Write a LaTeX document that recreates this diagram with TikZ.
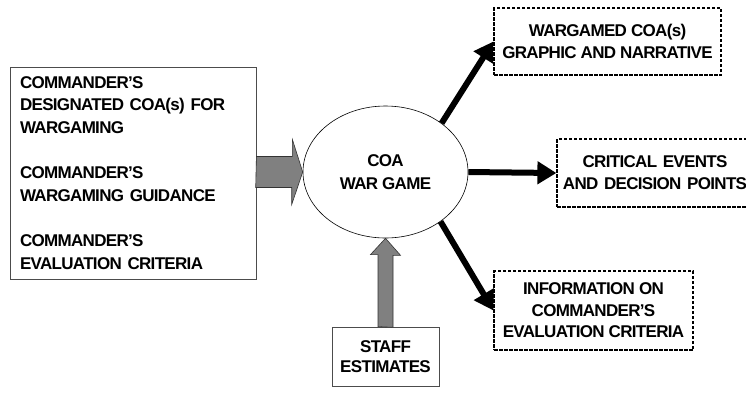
\documentclass[tikz,border=0pt]{standalone}
\usepackage{fontspec}
\setmainfont{Liberation Sans}[LetterSpace=-4]
\usetikzlibrary{arrows.meta,shapes.geometric}

\begin{document}
\begin{tikzpicture}[x=1pt,y=-1pt,
  font=\bfseries\fontsize{17}{22.7}\selectfont,
  inbox/.style={draw=black!70,line width=0.8pt,rectangle,inner sep=0pt},
  outbox/.style={draw,line width=1.2pt,dash pattern=on 3.5pt off 1.5pt,
    inner sep=0pt,align=center,font=\bfseries\fontsize{17}{22}\selectfont},
  outarrow/.style={line width=6pt,-{Triangle[length=19pt,width=22pt]}},
  blockarrow/.style={draw=black!80,line width=0.6pt,fill=black!50}]

\useasboundingbox (0,0) rectangle (746,392);

\node[inbox,minimum width=246pt,minimum height=212pt,text width=226pt,align=left]
  (guidance) at (133,173) {COMMANDER’S\\ DESIGNATED COA(s) FOR\\ WARGAMING\\[22.7pt]
  COMMANDER’S\\ WARGAMING GUIDANCE\\[22.7pt] COMMANDER’S\\ EVALUATION CRITERIA};
\node[ellipse,draw,line width=0.6pt,minimum width=165pt,minimum height=132pt,
  inner sep=0pt,align=center] (wargame) at (385.5,172) {COA\\ WAR GAME};
\node[inbox,minimum width=107pt,minimum height=59pt,align=center,
  font=\bfseries\fontsize{17}{19.5}\selectfont] (staff) at (385.5,356.5) {STAFF\\ ESTIMATES};

\node[outbox,minimum width=227pt,minimum height=67pt] (graphic) at (607.5,41.5)
  {WARGAMED COA(s)\\ GRAPHIC AND NARRATIVE};
\node[outbox,text width=196pt,minimum height=68pt] (events) at (655,173)
  {CRITICAL EVENTS\\ AND DECISION POINTS};
\node[outbox,minimum width=199pt,minimum height=79pt,
  font=\bfseries\fontsize{17}{21.5}\selectfont] (info) at (593.5,310.5)
  {INFORMATION ON\\ COMMANDER’S\\ EVALUATION CRITERIA};

% inputs
\draw[blockarrow] (guidance.east |- wargame.west) ++(0,-15.5) -- ++(36,0) -- ++(0,-17)
  -- (wargame.west) -- ++(-11,32.5) -- ++(0,-17) -- ++(-36,0) -- cycle;
\draw[blockarrow] (staff.north) ++(-7.5,0) -- ++(0,-72) -- ++(-7.5,0)
  -- (wargame.south) -- ++(15,17) -- ++(-7.5,0) -- ++(0,72) -- cycle;

% outputs
\path
  (wargame.41) edge[outarrow] (graphic.west)
  (wargame.east) edge[outarrow] (events.west)
  (wargame.-42) edge[outarrow] (info.west);

\end{tikzpicture}
\end{document}
